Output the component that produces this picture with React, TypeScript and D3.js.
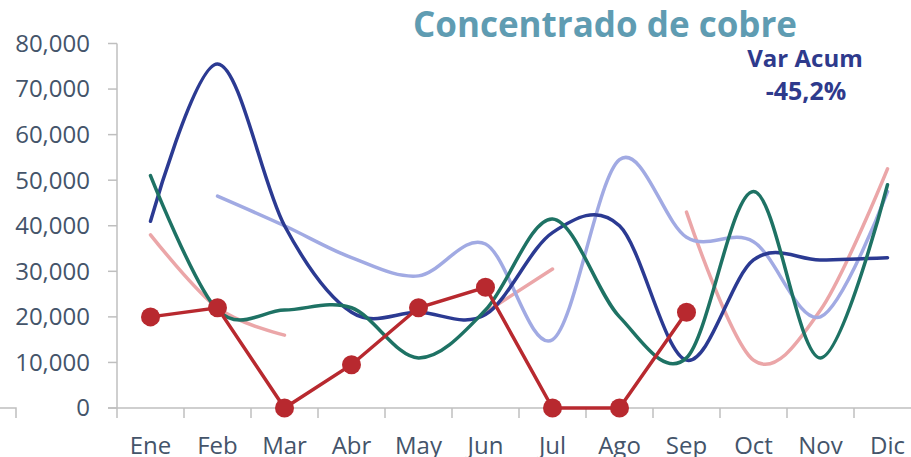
import React from "react";
import * as d3 from "d3";

const months = ["Ene", "Feb", "Mar", "Abr", "May", "Jun", "Jul", "Ago", "Sep", "Oct", "Nov", "Dic"];
const yTicks = [0, 10000, 20000, 30000, 40000, 50000, 60000, 70000, 80000];

const seriesPink: (number | null)[] = [38000, 22000, 16000, null, null, 21000, 30500, null, 43000, 10500, 21500, 52500];
const seriesPeriwinkle: (number | null)[] = [null, 46500, 40000, 33000, 29000, 36000, 15000, 54500, 37500, 36500, 20000, 47500];
const seriesNavy: (number | null)[] = [41000, 75500, 40000, 21000, 21000, 20500, 38500, 40000, 10500, 32500, 32500, 33000];
const seriesTeal: (number | null)[] = [51000, 21500, 21500, 22000, 11000, 21500, 41500, 20000, 11000, 47500, 11000, 49000];
const seriesRed: (number | null)[] = [20000, 22000, 0, 9500, 22000, 26500, 0, 0, 21000, null, null, null];

const title = "Concentrado de cobre";
const noteLine1 = "Var Acum";
const noteLine2 = "-45,2%";

export default function App() {
  const W = 911;
  const H = 457;
  const x = d3.scaleBand<string>().domain(months).range([117, 117 + 12 * 67]).padding(0);
  const y = d3.scaleLinear().domain([0, 80000]).range([408, 43.5]);
  const cx = (m: string) => (x(m) as number) + x.bandwidth() / 2;
  const fmt = d3.format(",");

  const smooth = d3
    .line<number | null>()
    .defined((d) => d !== null)
    .x((_, i) => cx(months[i]))
    .y((d) => y(d as number))
    .curve(d3.curveCardinal.tension(0));
  const straight = d3
    .line<number | null>()
    .defined((d) => d !== null)
    .x((_, i) => cx(months[i]))
    .y((d) => y(d as number));

  const font = "'Open Sans', 'Noto Sans', sans-serif";
  const labelColor = "#44546A";
  const axisColor = "#BFBFBF";

  return (
    <svg width={W} height={H} style={{ position: "absolute", left: 0, top: 0 }}>
      <rect width={W} height={H} fill="#fff" />
      {/* left artifact */}
      <path d="M0,408 H16 V418" fill="none" stroke={axisColor} strokeWidth={1.5} />
      {/* y axis */}
      <line x1={117} x2={117} y1={y(80000)} y2={y(0)} stroke={axisColor} strokeWidth={1.5} />
      {yTicks.map((t) => (
        <g key={t}>
          <line x1={108} x2={117} y1={y(t)} y2={y(t)} stroke={axisColor} strokeWidth={1.5} />
          <text x={90} y={y(t)} dy="0.35em" textAnchor="end" fontFamily={font} fontSize={24} fill={labelColor}>
            {fmt(t)}
          </text>
        </g>
      ))}
      {/* x axis */}
      <line x1={108} x2={W} y1={y(0)} y2={y(0)} stroke={axisColor} strokeWidth={1.5} />
      {months.map((m) => (
        <g key={m}>
          <line x1={x(m) as number} x2={x(m) as number} y1={408} y2={418} stroke={axisColor} strokeWidth={1.5} />
          <text x={cx(m)} y={454} textAnchor="middle" fontFamily={font} fontSize={24} fill={labelColor}>
            {m}
          </text>
        </g>
      ))}

      {/* series */}
      <path d={smooth(seriesPink) || ""} fill="none" stroke="#EBA6A8" strokeWidth={3.5} strokeLinecap="round" />
      <path d={smooth(seriesPeriwinkle) || ""} fill="none" stroke="#A1AAE3" strokeWidth={3.5} strokeLinecap="round" />
      <path d={smooth(seriesNavy) || ""} fill="none" stroke="#2B3A92" strokeWidth={3.5} strokeLinecap="round" />
      <path d={smooth(seriesTeal) || ""} fill="none" stroke="#1E7264" strokeWidth={3.5} strokeLinecap="round" />
      <path d={straight(seriesRed) || ""} fill="none" stroke="#B8292F" strokeWidth={3.5} strokeLinecap="round" />
      {seriesRed.map((v, i) =>
        v === null ? null : <circle key={i} cx={cx(months[i])} cy={y(v)} r={9.5} fill="#B8292F" />
      )}

      {/* titles */}
      <text x={605} y={37} textAnchor="middle" fontFamily={font} fontWeight="bold" fontSize={35} fill="#5F9CB2">
        {title}
      </text>
      <text x={805} y={67} textAnchor="middle" fontFamily={font} fontWeight="bold" fontSize={24} fill="#2E3A8C">
        {noteLine1}
      </text>
      <text x={806} y={100} textAnchor="middle" fontFamily={font} fontWeight="bold" fontSize={25} fill="#2E3A8C">
        {noteLine2}
      </text>
    </svg>
  );
}
